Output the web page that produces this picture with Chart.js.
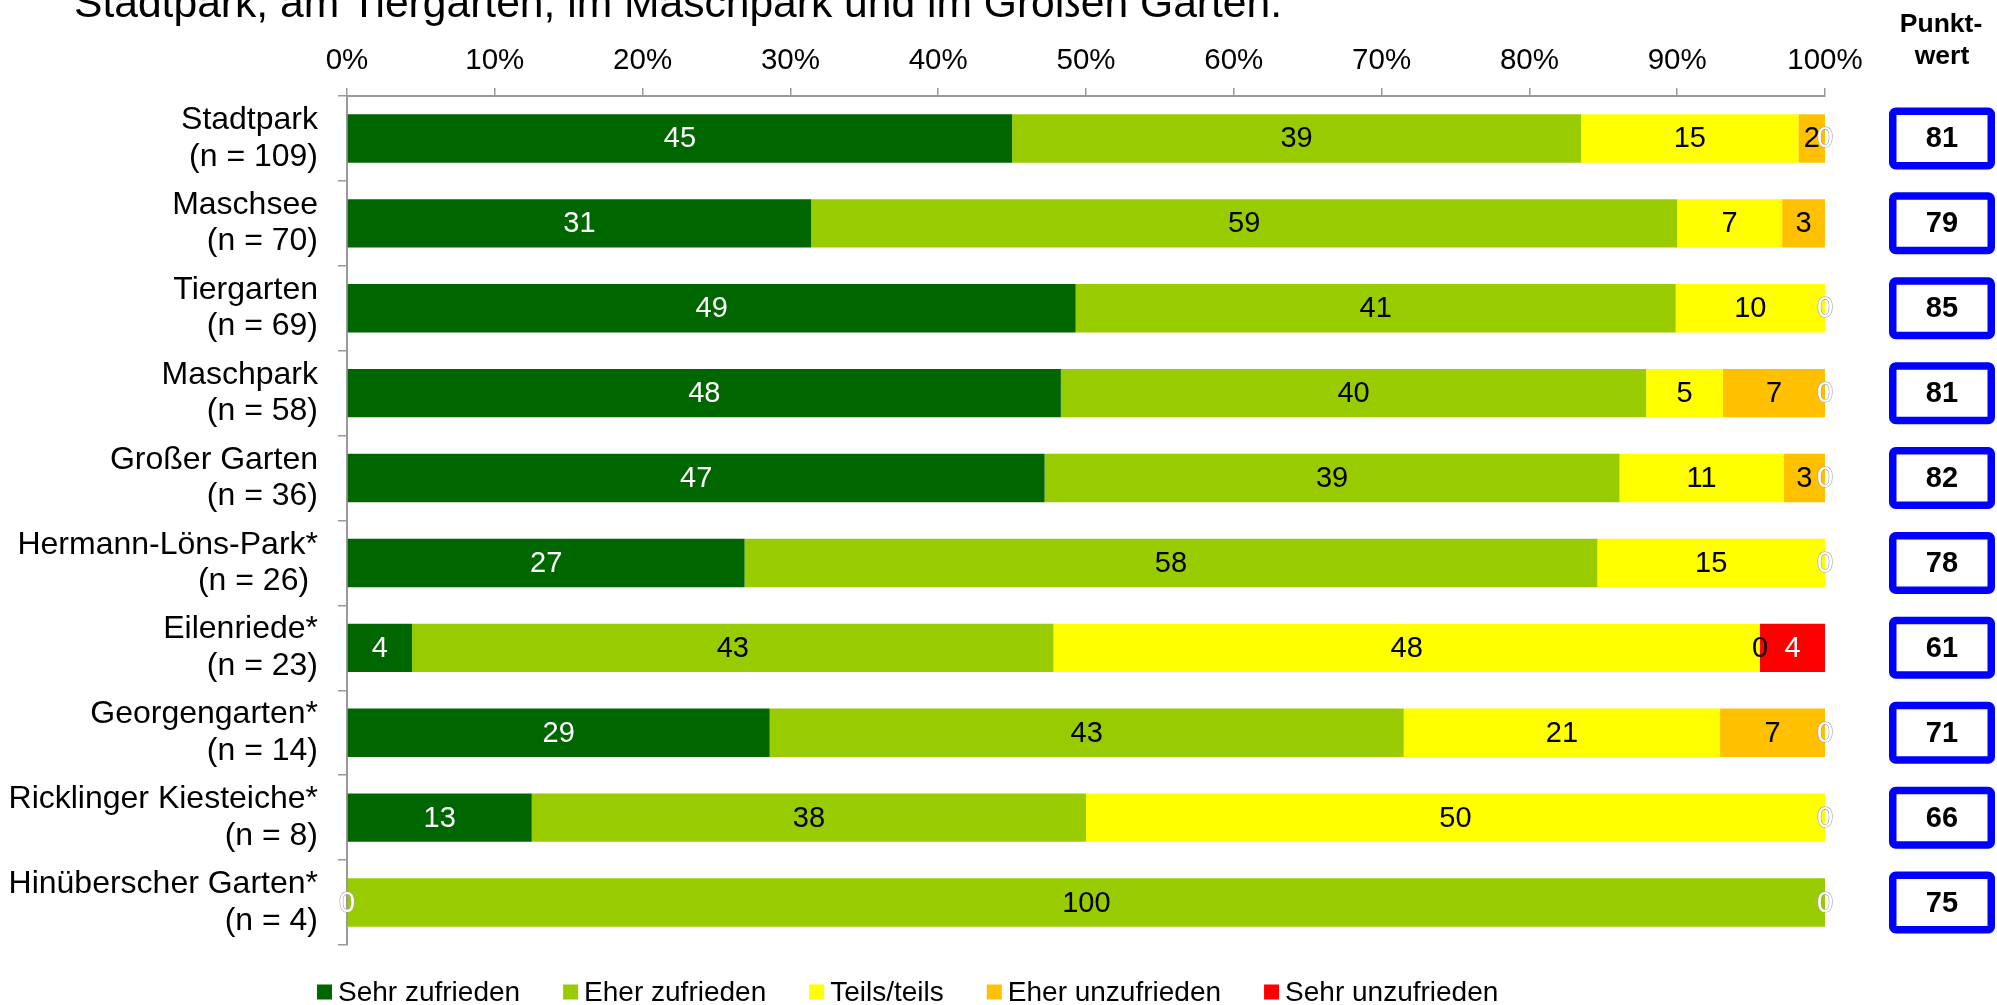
<!DOCTYPE html>
<html>
<head>
<meta charset="utf-8">
<script src="https://cdn.jsdelivr.net/npm/chart.js@4.4.0/dist/chart.umd.min.js"></script>
<style>
  html, body { margin: 0; padding: 0; background: #fff; }
  #wrap { width: 1997px; height: 1005px; position: relative; }
</style>
</head>
<body>
<div id="wrap"><canvas id="myChart" width="1997" height="1005"></canvas></div>
<script>
    // datos

const parks = [
    ['Stadtpark', '(n = 109)'],
    ['Maschsee', '(n = 70)'],
    ['Tiergarten', '(n = 69)'],
    ['Maschpark', '(n = 58)'],
    ['Großer Garten', '(n = 36)'],
    ['Hermann-Löns-Park*', '(n = 26) '],
    ['Eilenriede*', '(n = 23)'],
    ['Georgengarten*', '(n = 14)'],
    ['Ricklinger Kiesteiche*', '(n = 8)'],
    ['Hinüberscher Garten*', '(n = 4)']
];
const sehrZufrieden   = [45.0, 31.4, 49.3, 48.3, 47.2, 26.9, 4.4, 28.6, 12.5, 0];
const eherZufrieden   = [38.5, 58.6, 40.6, 39.6, 38.9, 57.7, 43.4, 42.9, 37.5, 100];
const teilsTeils      = [14.7, 7.1, 10.1, 5.2, 11.1, 15.4, 47.8, 21.4, 50.0, 0];
const eherUnzufrieden = [1.8, 2.9, 0, 6.9, 2.8, 0, 0, 7.1, 0, 0];
const sehrUnzufrieden = [0, null, 0, 0, 0, 0, 4.4, 0, 0, 0];
const punktwert = [81, 79, 85, 81, 82, 78, 61, 71, 66, 75];
const xTicks = [0, 10, 20, 30, 40, 50, 60, 70, 80, 90, 100];

const titleText = 'Stadtpark, am Tiergarten, im Maschpark und im Großen Garten.';
const fontName = "'Liberation Sans', Arial, sans-serif";

Chart.defaults.color = '#000';
Chart.defaults.font.family = fontName;

let ctxChart = document.getElementById('myChart').getContext('2d');

    // etiquetas dentro de las barras

const barLabels = {
    id: 'barLabels',
    afterDatasetsDraw(chart) {
        const ctx = chart.ctx;
        ctx.save();
        ctx.font = '29px ' + fontName;
        ctx.textAlign = 'center';
        ctx.textBaseline = 'middle';
        chart.data.datasets.forEach((ds, di) => {
            const meta = chart.getDatasetMeta(di);
            meta.data.forEach((bar, i) => {
                const v = ds.data[i];
                if (v === null || v === undefined) return;
                const x = (bar.base + bar.x) / 2;
                const y = bar.y + 1;
                const txt = String(Math.round(v));
                if (v === 0) {
                    if (ds.labelColor === '#fff') {
                        ctx.lineWidth = 1.2;
                        ctx.strokeStyle = '#a0a0a0';
                        ctx.strokeText(txt, x, y);
                        ctx.fillStyle = '#fff';
                        ctx.fillText(txt, x, y);
                    } else if (chart.scales.x.getValueForPixel(bar.base) < 99.9) {
                        ctx.fillStyle = ds.labelColor;
                        ctx.fillText(txt, x, y);
                    }
                    return;
                }
                ctx.fillStyle = ds.labelColor;
                ctx.fillText(txt, x, y);
            });
        });
        ctx.restore();
    }
};

    // titulo, punktwert y leyenda

const extras = {
    id: 'extras',
    afterDraw(chart) {
        const ctx = chart.ctx;
        const yScale = chart.scales.y;
        ctx.save();

        // titulo (cortado arriba)
        ctx.fillStyle = '#000';
        ctx.font = '42.6px ' + fontName;
        ctx.textAlign = 'left';
        ctx.textBaseline = 'alphabetic';
        ctx.fillText(titleText, 74, 17);

        // cabecera Punktwert
        ctx.font = 'bold 26.5px ' + fontName;
        ctx.textAlign = 'center';
        ctx.fillText('Punkt-', 1941, 32);
        ctx.fillText('wert', 1942, 64);

        // cajas azules
        punktwert.forEach((p, i) => {
            const cy = yScale.getPixelForValue(i);
            const bx = 1892.75, by = cy - 27.25, bw = 98.5, bh = 54.5;
            ctx.lineWidth = 7.5;
            ctx.strokeStyle = '#0000ff';
            ctx.fillStyle = '#fff';
            ctx.beginPath();
            ctx.roundRect(bx, by, bw, bh, 3);
            ctx.fill();
            ctx.stroke();
            ctx.fillStyle = '#000';
            ctx.font = 'bold 29px ' + fontName;
            ctx.textBaseline = 'middle';
            ctx.fillText(String(p), 1942, cy + 1);
        });

        // leyenda
        ctx.font = '28px ' + fontName;
        ctx.textAlign = 'left';
        ctx.textBaseline = 'middle';
        let lx = 317;
        const ly = 992;
        chart.data.datasets.forEach(ds => {
            ctx.fillStyle = ds.backgroundColor;
            ctx.fillRect(lx, ly - 7.5, 15, 15);
            ctx.fillStyle = '#000';
            ctx.fillText(ds.label, lx + 21, ly + 1);
            lx += 21 + ctx.measureText(ds.label).width + 43;
        });
        ctx.restore();
    }
};

    // grafico

const data = {
    labels: parks,
    datasets: [
        { label: 'Sehr zufrieden', data: sehrZufrieden, backgroundColor: '#006600', labelColor: '#fff' },
        { label: 'Eher zufrieden', data: eherZufrieden, backgroundColor: '#99cc00', labelColor: '#000' },
        { label: 'Teils/teils', data: teilsTeils, backgroundColor: '#ffff00', labelColor: '#000' },
        { label: 'Eher unzufrieden', data: eherUnzufrieden, backgroundColor: '#ffc000', labelColor: '#000' },
        { label: 'Sehr unzufrieden', data: sehrUnzufrieden, backgroundColor: '#ff0000', labelColor: '#fff' }
    ]
};

const config = {
    type: 'bar',
    data,
    options: {
        indexAxis: 'y',
        responsive: false,
        animation: false,
        barPercentage: 0.57,
        categoryPercentage: 1,
        layout: { padding: { left: 0, right: 172, top: 0, bottom: 60 } },
        plugins: {
            legend: { display: false },
            tooltip: { enabled: false }
        },
        scales: {
            x: {
                position: 'top',
                stacked: true,
                min: 0,
                max: 100,
                afterBuildTicks: s => { s.ticks = xTicks.map(v => ({ value: v })); },
                afterFit: s => { s.height = 96; },
                ticks: {
                    callback: v => v + '%',
                    font: { size: 29.5 },
                    color: '#000',
                    padding: 9,
                    maxRotation: 0
                },
                grid: { drawOnChartArea: false, tickLength: 8, color: '#999', lineWidth: 1.5 },
                border: { color: '#999', width: 2 }
            },
            y: {
                stacked: true,
                afterFit: s => { s.width = 347; },
                ticks: {
                    font: { size: 32, lineHeight: 1.14 },
                    color: '#000',
                    padding: 20,
                    autoSkip: false
                },
                grid: { drawOnChartArea: false, tickLength: 9, color: '#999', lineWidth: 1.5, offset: true },
                border: { color: '#999', width: 2 }
            }
        }
    },
    plugins: [barLabels, extras]
};

let myChart = new Chart(ctxChart, config);
</script>
</body>
</html>
